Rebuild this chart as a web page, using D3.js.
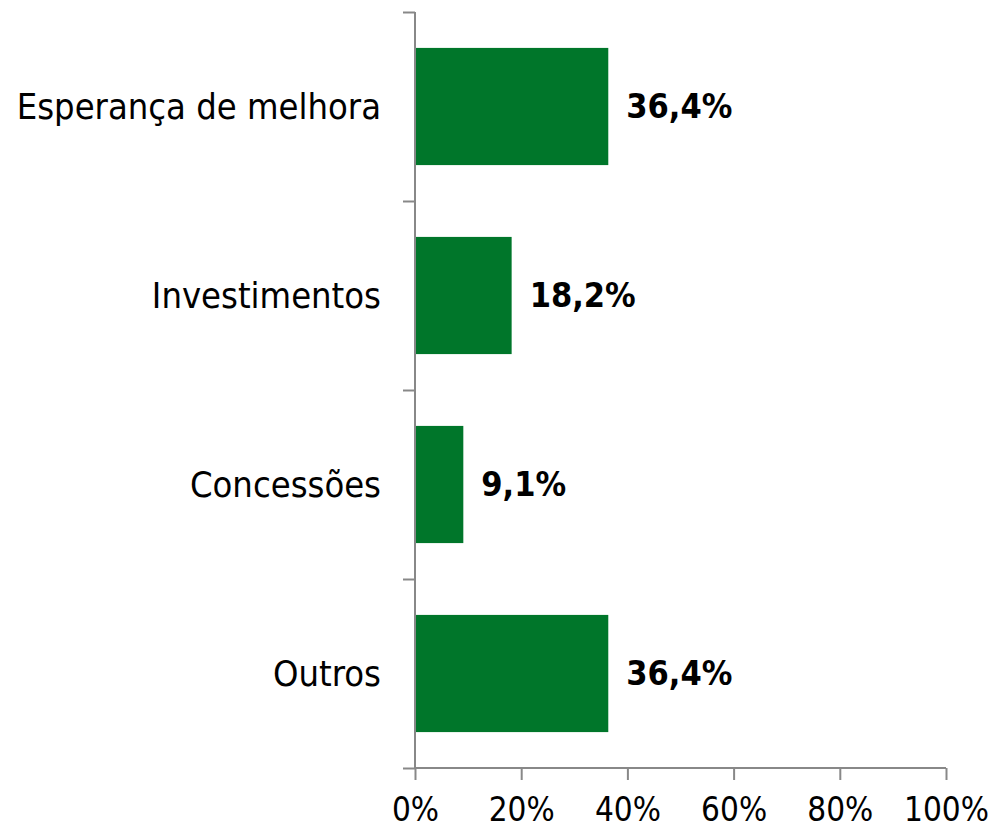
<!DOCTYPE html>
<html>
<head>
<meta charset="utf-8">
<script src="https://cdn.jsdelivr.net/npm/d3@7"></script>
<style>
  body { margin: 0; background: #fff; }
  text { font-family: "DejaVu Sans Condensed", "DejaVu Sans", sans-serif; }
</style>
</head>
<body>
<div id="chart"></div>
<script>
// data
var categories = ["Esperança de melhora", "Investimentos", "Concessões", "Outros"];
var values = [36.4, 18.2, 9.1, 36.4];
var labels = ["36,4%", "18,2%", "9,1%", "36,4%"];
var xTicks = [0, 20, 40, 60, 80, 100];

var margin = {top: 12, right: 45, bottom: 63, left: 415},
    width = 991 - margin.left - margin.right,
    height = 831 - margin.top - margin.bottom;

var svg = d3.select("#chart")
    .append("svg")
    .attr("width", 991)
    .attr("height", 831)
    .append("g")
    .attr("transform", "translate(" + margin.left + "," + margin.top + ")");

// scales
var x = d3.scaleLinear()
    .domain([0, 100])
    .range([0, width]);

var y = d3.scaleBand()
    .domain(categories)
    .range([0, height])
    .paddingInner(0.38)
    .paddingOuter(0.19);

// category boundaries for the left axis ticks (Excel style)
var yEdge = d3.scaleLinear()
    .domain([0, categories.length])
    .range([0, height]);

// bars
svg.append("g")
    .selectAll("rect")
    .data(values)
    .enter()
    .append("rect")
    .attr("x", 1)
    .attr("y", (d, i) => y(categories[i]))
    .attr("width", d => x(d) - 1)
    .attr("height", y.bandwidth())
    .attr("fill", "#00762A");

// x axis
var xAxis = svg.append("g")
    .attr("transform", "translate(0," + height + ")")
    .call(d3.axisBottom(x).tickValues(xTicks).tickSize(12).tickPadding(18).tickFormat(d => d + "%"));
xAxis.selectAll("text")
    .attr("dy", "0.71em")
    .style("font-size", "33px")
    .attr("fill", "#000");

// y axis
var yAxis = svg.append("g")
    .call(d3.axisLeft(yEdge).tickValues(d3.range(categories.length + 1)).tickSize(12).tickFormat(""));

svg.selectAll(".tick line")
    .attr("stroke", "#888")
    .attr("stroke-width", 2);
xAxis.select(".domain").remove();
yAxis.select(".domain").remove();

// axis lines
svg.append("line")
    .attr("x1", 0).attr("x2", 0)
    .attr("y1", 0).attr("y2", height)
    .attr("stroke", "#888").attr("stroke-width", 2);
svg.append("line")
    .attr("x1", 0).attr("x2", width)
    .attr("y1", height).attr("y2", height)
    .attr("stroke", "#888").attr("stroke-width", 2);

// category labels
svg.append("g")
    .selectAll("text")
    .data(categories)
    .enter()
    .append("text")
    .attr("x", -34)
    .attr("y", d => y(d) + y.bandwidth() / 2)
    .attr("dy", "0.35em")
    .attr("text-anchor", "end")
    .style("font-size", "36px")
    .attr("fill", "#000")
    .text(d => d);

// value labels
svg.append("g")
    .selectAll("text")
    .data(values)
    .enter()
    .append("text")
    .attr("x", d => x(d) + 18)
    .attr("y", (d, i) => y(categories[i]) + y.bandwidth() / 2)
    .attr("dy", "0.35em")
    .style("font-size", "34px")
    .style("font-weight", "bold")
    .attr("fill", "#000")
    .text((d, i) => labels[i]);
</script>
</body>
</html>
